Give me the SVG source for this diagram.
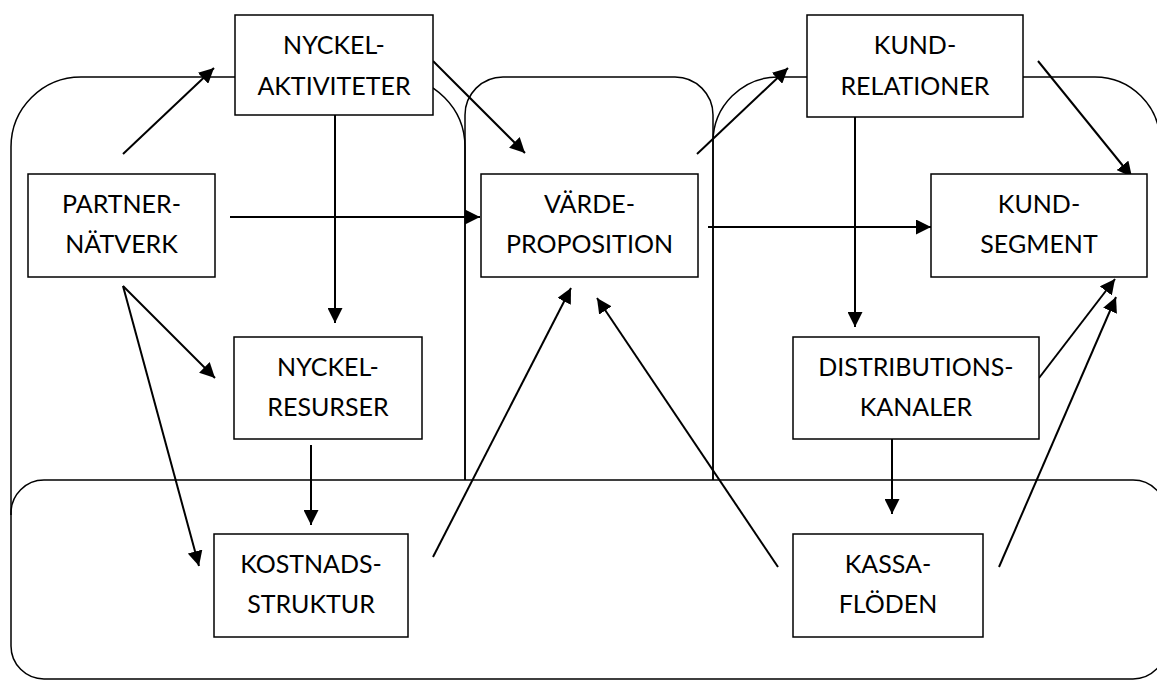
<svg xmlns="http://www.w3.org/2000/svg" width="1157" height="680" viewBox="0 0 1157 680">
  <style>
    .zone { fill: none; stroke: #000; stroke-width: 1.5; }
    .box rect { fill: #fff; stroke: #000; stroke-width: 1.5; }
    .box text { font-family: Lato, "Liberation Sans", sans-serif; font-size: 25px; fill: #000; text-anchor: middle; }
    .arrow { stroke: #000; stroke-width: 2; fill: none; marker-end: url(#head); }
  </style>
  <defs>
    <marker id="head" markerUnits="userSpaceOnUse" markerWidth="15" markerHeight="15" refX="15" refY="7.5" orient="auto">
      <path d="M0,0 L15,7.5 L0,15 z" fill="#000"/>
    </marker>
  </defs>

  <!-- background zones -->
  <g id="zones">
    <path class="zone" d="M11,515 V147 A70,70 0 0 1 81,77 H395 A70,70 0 0 1 465,147 V480"/>
    <path class="zone" d="M465,480 V115 A38,38 0 0 1 503,77 H675 A38,38 0 0 1 713,115 V480"/>
    <path class="zone" d="M713,480 V142 A65,65 0 0 1 778,77 H1095 A65,65 0 0 1 1160,142 V480"/>
    <rect class="zone" x="11" y="480" width="1155" height="199" rx="33" ry="33"/>
  </g>

  <!-- connectors -->
  <g id="connectors">
    <line class="arrow" x1="123" y1="154" x2="214" y2="68"/>
    <line class="arrow" x1="433" y1="61" x2="525" y2="153"/>
    <line class="arrow" x1="230" y1="217" x2="480" y2="217"/>
    <line class="arrow" x1="335" y1="115" x2="335" y2="323"/>
    <line class="arrow" x1="123" y1="286" x2="215" y2="378"/>
    <line class="arrow" x1="123" y1="286" x2="199" y2="566"/>
    <line class="arrow" x1="311" y1="445" x2="311" y2="525"/>
    <line class="arrow" x1="433" y1="557" x2="571" y2="288"/>
    <line class="arrow" x1="778" y1="567" x2="597" y2="298"/>
    <line class="arrow" x1="697" y1="154" x2="788" y2="68"/>
    <line class="arrow" x1="1038" y1="61" x2="1132" y2="177"/>
    <line class="arrow" x1="708" y1="227" x2="931" y2="227"/>
    <line class="arrow" x1="855" y1="117" x2="855" y2="327"/>
    <line class="arrow" x1="892" y1="439" x2="892" y2="514"/>
    <line class="arrow" x1="1039" y1="378" x2="1115" y2="279"/>
    <line class="arrow" x1="999" y1="567" x2="1116" y2="297"/>
  </g>

  <!-- nodes -->
  <g id="nyckelaktiviteter" class="box">
    <rect x="235" y="15" width="198" height="100"/>
    <text x="334" y="54">NYCKEL-</text>
    <text x="334" y="95">AKTIVITETER</text>
  </g>
  <g id="partnernatverk" class="box">
    <rect x="28" y="174" width="187" height="103"/>
    <text x="121.5" y="213">PARTNER-</text>
    <text x="121.5" y="253">NÄTVERK</text>
  </g>
  <g id="vardeproposition" class="box">
    <rect x="481" y="174" width="217" height="103"/>
    <text x="589.5" y="213">VÄRDE-</text>
    <text x="589.5" y="253">PROPOSITION</text>
  </g>
  <g id="kundrelationer" class="box">
    <rect x="807" y="15" width="216" height="102"/>
    <text x="915" y="54">KUND-</text>
    <text x="915" y="95">RELATIONER</text>
  </g>
  <g id="kundsegment" class="box">
    <rect x="931" y="174" width="216" height="103"/>
    <text x="1039" y="213">KUND-</text>
    <text x="1039" y="253">SEGMENT</text>
  </g>
  <g id="nyckelresurser" class="box">
    <rect x="234" y="337" width="188" height="102"/>
    <text x="328" y="376">NYCKEL-</text>
    <text x="328" y="416">RESURSER</text>
  </g>
  <g id="distributionskanaler" class="box">
    <rect x="793" y="337" width="246" height="102"/>
    <text x="916" y="376">DISTRIBUTIONS-</text>
    <text x="916" y="416">KANALER</text>
  </g>
  <g id="kostnadsstruktur" class="box">
    <rect x="214" y="534" width="194" height="103"/>
    <text x="311" y="573">KOSTNADS-</text>
    <text x="311" y="613">STRUKTUR</text>
  </g>
  <g id="kassafloden" class="box">
    <rect x="793" y="534" width="190" height="103"/>
    <text x="888" y="573">KASSA-</text>
    <text x="888" y="613">FLÖDEN</text>
  </g>
</svg>
